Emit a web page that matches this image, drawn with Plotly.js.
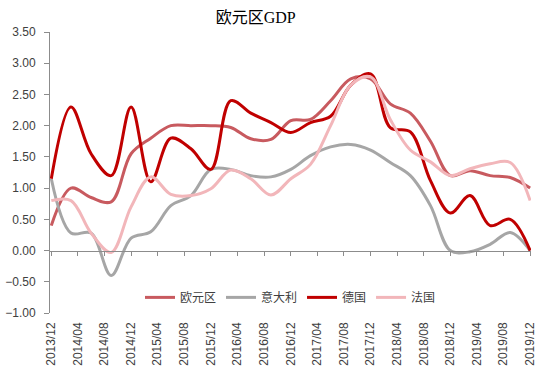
<!DOCTYPE html>
<html>
<head>
<meta charset="utf-8">
<script src="https://cdn.plot.ly/plotly-3.0.1.min.js"></script>
<style>
  html, body { margin: 0; padding: 0; background: #fff; }
  #chart { width: 550px; height: 376px; }
</style>
</head>
<body>
<div id="chart"></div>
<script>
// Quarterly observations
const quarters = ['2013-12','2014-03','2014-06','2014-09','2014-12','2015-03','2015-06','2015-09','2015-12',
  '2016-03','2016-06','2016-09','2016-12','2017-03','2017-06','2017-09','2017-12',
  '2018-03','2018-06','2018-09','2018-12','2019-03','2019-06','2019-09','2019-12'];

const euroArea = [0.40, 1.00, 0.85, 0.78, 1.55, 1.80, 2.00, 2.00, 2.00, 1.97, 1.79, 1.78, 2.08,
  2.10, 2.40, 2.75, 2.75, 2.35, 2.20, 1.75, 1.20, 1.28, 1.20, 1.17, 1.00];
const italy = [1.15, 0.28, 0.28, -0.40, 0.20, 0.30, 0.72, 0.88, 1.30, 1.30, 1.20, 1.18, 1.30,
  1.52, 1.66, 1.70, 1.61, 1.41, 1.20, 0.72, 0.00, -0.02, 0.10, 0.29, 0.00];
const germany = [1.15, 2.30, 1.55, 1.20, 2.30, 1.10, 1.80, 1.63, 1.30, 2.40, 2.20, 2.05, 1.89,
  2.05, 2.15, 2.65, 2.83, 1.97, 1.90, 1.12, 0.60, 0.88, 0.40, 0.50, 0.00];
const france = [0.80, 0.80, 0.28, -0.03, 0.70, 1.18, 0.90, 0.88, 0.99, 1.29, 1.15, 0.89, 1.15,
  1.38, 2.00, 2.65, 2.78, 2.10, 1.61, 1.42, 1.20, 1.31, 1.39, 1.41, 0.80];

const seriesNames = ['欧元区', '意大利', '德国', '法国'];

const tickVals = ['2013-12','2014-04','2014-08','2014-12','2015-04','2015-08','2015-12','2016-04',
  '2016-08','2016-12','2017-04','2017-08','2017-12','2018-04','2018-08','2018-12','2019-04','2019-08','2019-12'];
const tickLabels = ['2013/12','2014/04','2014/08','2014/12','2015/04','2015/08','2015/12','2016/04',
  '2016/08','2016/12','2017/04','2017/08','2017/12','2018/04','2018/08','2018/12','2019/04','2019/08','2019/12'];

const yTicks = [-1.0, -0.5, 0.0, 0.5, 1.0, 1.5, 2.0, 2.5, 3.0, 3.5];

const colors = ['#C85A5F', '#A6A6A6', '#C00000', '#F2B6BA'];
const values = [euroArea, italy, germany, france];

const traces = values.map((v, i) => ({
  type: 'scatter', mode: 'lines', name: seriesNames[i],
  x: quarters, y: v,
  line: { color: colors[i], width: 3, shape: 'spline', smoothing: 1 },
  hoverinfo: 'skip'
}));
// helper trace so the zero-level axis (ticks at y=0) is drawn
traces.push({ type: 'scatter', mode: 'lines', x: [quarters[0]], y: [null], xaxis: 'x2',
  showlegend: false, hoverinfo: 'skip' });

const xRange = ['2013-11-25', '2019-12-05'];
const yMin = -1, yMax = 3.5;

const layout = {
  width: 550, height: 376,
  margin: { l: 50, r: 19, t: 32, b: 63 },
  paper_bgcolor: '#fff', plot_bgcolor: '#fff',
  title: { text: '欧元区GDP', x: 0.465, xanchor: 'center', y: 0.955, yanchor: 'middle',
    font: { family: 'Liberation Serif, "Noto Sans CJK SC", serif', size: 16, color: '#000' } },
  xaxis: {
    type: 'date', range: xRange, showgrid: false, zeroline: false, showline: false,
    tickmode: 'array', tickvals: tickVals, ticktext: tickLabels, tickangle: -90,
    ticks: '', ticklabelstandoff: 6,
    tickfont: { family: 'Liberation Sans, Arial, sans-serif', size: 12, color: '#404040' }
  },
  xaxis2: {
    type: 'date', range: xRange, overlaying: 'x', anchor: 'free',
    position: (0 - yMin) / (yMax - yMin),
    showgrid: false, zeroline: false, showline: true, linecolor: '#8C8C8C', linewidth: 1,
    tickmode: 'array', tickvals: tickVals, ticks: 'outside', ticklen: 4, tickcolor: '#8C8C8C',
    showticklabels: false, side: 'bottom'
  },
  yaxis: {
    range: [yMin, yMax], tickmode: 'array', tickvals: yTicks, tickformat: '.2f',
    showgrid: false, zeroline: false, showline: true, linecolor: '#8C8C8C', linewidth: 1,
    ticks: 'outside', ticklen: 5, tickcolor: '#8C8C8C', ticklabelstandoff: 6,
    tickfont: { family: 'Liberation Sans, Arial, sans-serif', size: 12, color: '#404040' }
  },
  legend: {
    orientation: 'h', x: 0.5, xanchor: 'center', y: (-0.75 - yMin) / (yMax - yMin), yanchor: 'middle',
    font: { family: '"Noto Sans CJK SC", sans-serif', size: 12, color: '#404040' },
    bgcolor: 'rgba(0,0,0,0)', itemwidth: 30
  },
  showlegend: true
};

Plotly.newPlot('chart', traces, layout, { displayModeBar: false, staticPlot: true });
</script>
</body>
</html>
